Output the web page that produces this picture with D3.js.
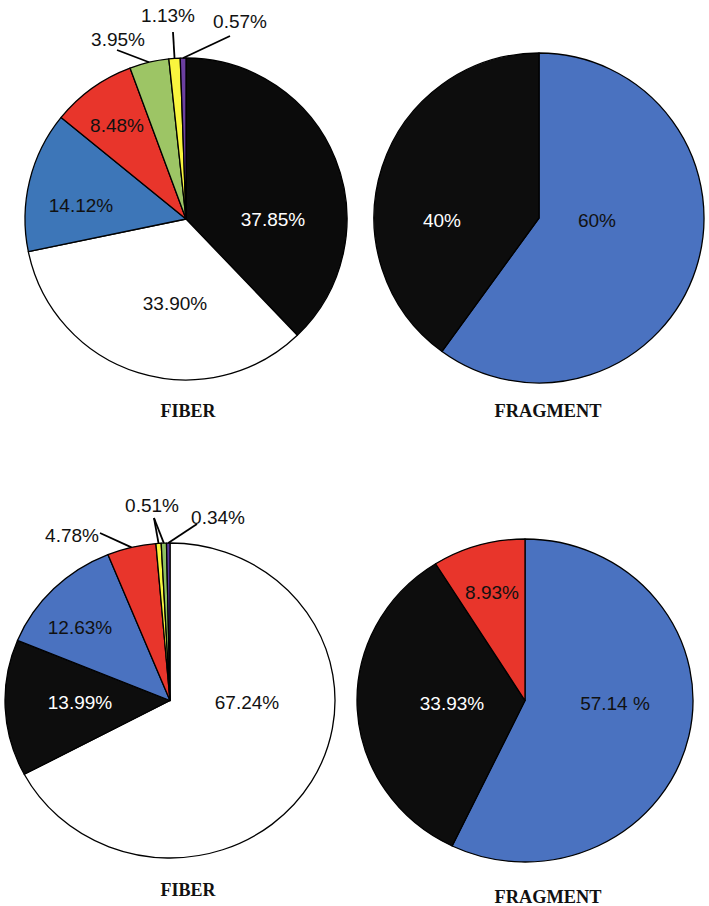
<!DOCTYPE html>
<html>
<head>
<meta charset="utf-8">
<script src="https://cdn.jsdelivr.net/npm/d3@7"></script>
<style>
  html, body { margin: 0; padding: 0; background: #fff; }
  svg { display: block; }
</style>
</head>
<body>
<svg id="chart" width="709" height="906"></svg>
<script>
// ---------------- DATA ----------------
const fiberTopCategories = ["Black", "White", "Blue", "Red", "Green", "Yellow", "Purple"];
const fiberTopValues     = [37.85, 33.90, 14.12, 8.48, 3.95, 1.13, 0.57];
const fiberTopLabels     = ["37.85%", "33.90%", "14.12%", "8.48%", "3.95%", "1.13%", "0.57%"];

const fragmentTopCategories = ["Blue", "Black"];
const fragmentTopValues     = [60, 40];
const fragmentTopLabels     = ["60%", "40%"];

const fiberBottomCategories = ["White", "Black", "Blue", "Red", "Yellow", "Green", "Purple"];
const fiberBottomValues     = [67.24, 13.99, 12.63, 4.78, 0.51, 0.51, 0.34];
const fiberBottomLabels     = ["67.24%", "13.99%", "12.63%", "4.78%", "0.51%", null, "0.34%"];

const fragmentBottomCategories = ["Blue", "Black", "Red"];
const fragmentBottomValues     = [57.14, 33.93, 8.93];
const fragmentBottomLabels     = ["57.14 %", "33.93%", "8.93%"];

const panelTitles = ["FIBER", "FRAGMENT", "FIBER", "FRAGMENT"];

// ---------------- STYLE ----------------
const colorFiberTop = {
  Black: "#0b0b0b", White: "#ffffff", Blue: "#3d76b8", Red: "#e8352b",
  Green: "#9dc565", Yellow: "#f9f53e", Purple: "#6b3fa0"
};
const colorOffice = {
  Black: "#0d0d0d", White: "#ffffff", Blue: "#4a72c0", Red: "#e8352b",
  Green: "#8fc060", Yellow: "#f9f53e", Purple: "#5b3d9c"
};
const labelFont = "Arial, 'Liberation Sans', Helvetica, sans-serif";
const titleFont = "'Times New Roman', 'Liberation Serif', Times, serif";

// layout: centers, radii, label offsets (relative to pie center)
const panels = [
  {
    cats: fiberTopCategories, vals: fiberTopValues, labels: fiberTopLabels, colors: colorFiberTop,
    cx: 186, cy: 219, rx: 161, ry: 161,
    title: panelTitles[0], tx: 188, ty: 410, tlen: 55,
    inside: [[87, 0], [-11, 84], [-105, -14], [-69, -94]],
    outside: [
      { slices: [4], label: 4, text: [-68, -180], from: [-69, -169] },
      { slices: [5], label: 5, text: [-18, -204], from: [-13, -187] },
      { slices: [6], label: 6, text: [54, -198], from: [44, -183] }
    ]
  },
  {
    cats: fragmentTopCategories, vals: fragmentTopValues, labels: fragmentTopLabels, colors: colorOffice,
    cx: 539, cy: 218, rx: 165, ry: 165,
    title: panelTitles[1], tx: 548, ty: 410, tlen: 107,
    inside: [[58, 2], [-97, 2]],
    outside: []
  },
  {
    cats: fiberBottomCategories, vals: fiberBottomValues, labels: fiberBottomLabels, colors: colorOffice,
    cx: 170, cy: 700.5, rx: 165, ry: 157.5,
    title: panelTitles[2], tx: 188, ty: 889, tlen: 55,
    inside: [[77, 1.5], [-90, 1.5], [-90, -73.5]],
    outside: [
      { slices: [3], label: 3, text: [-98, -165.5], from: [-70, -167.5] },
      { slices: [4, 5], label: 4, text: [-18, -195.5], from: [-16, -182.5] },
      { slices: [6], label: 6, text: [48, -183.5], from: [27, -176.5] }
    ]
  },
  {
    cats: fragmentBottomCategories, vals: fragmentBottomValues, labels: fragmentBottomLabels, colors: colorOffice,
    cx: 525, cy: 700.5, rx: 168, ry: 161.5,
    title: panelTitles[3], tx: 548, ty: 896, tlen: 107,
    inside: [[90, 2.5], [-73, 2.5], [-33, -108.5]],
    outside: []
  }
];

const svg = d3.select("#chart");
const pie = d3.pie().sort(null).value(d => d.value);

panels.forEach(p => {
  const data = p.cats.map((c, i) => ({ cat: c, value: p.vals[i], label: p.labels[i] }));
  const arcs = pie(data);
  const arc = d3.arc().innerRadius(0).outerRadius(p.ry);

  const g = svg.append("g").attr("transform", `translate(${p.cx},${p.cy})`);
  const shapes = g.append("g").attr("transform", `scale(${p.rx / p.ry},1)`);

  shapes.selectAll("path")
    .data(arcs)
    .join("path")
    .attr("d", arc)
    .attr("fill", d => p.colors[d.data.cat])
    .attr("stroke", "#000")
    .attr("stroke-width", 1.3)
    .attr("stroke-linejoin", "round")
    .attr("vector-effect", "non-scaling-stroke");

  // inside labels
  p.inside.forEach((off, i) => {
    const d = arcs[i];
    g.append("text")
      .attr("x", off[0])
      .attr("y", off[1])
      .attr("dy", "0.36em")
      .attr("text-anchor", "middle")
      .attr("font-family", labelFont)
      .attr("font-size", 19)
      .attr("fill", d.data.cat === "Black" ? "#ffffff" : "#111111")
      .text(d.data.label);
  });

  // outside labels with leader lines
  p.outside.forEach(o => {
    o.slices.forEach(si => {
      const d = arcs[si];
      const a = (d.startAngle + d.endAngle) / 2;
      const ex = p.rx * Math.sin(a);
      const ey = -p.ry * Math.cos(a);
      g.append("line")
        .attr("x1", o.from[0]).attr("y1", o.from[1])
        .attr("x2", ex).attr("y2", ey)
        .attr("stroke", "#000")
        .attr("stroke-width", 1.8);
    });
    g.append("text")
      .attr("x", o.text[0])
      .attr("y", o.text[1])
      .attr("dy", "0.36em")
      .attr("text-anchor", "middle")
      .attr("font-family", labelFont)
      .attr("font-size", 19)
      .attr("fill", "#111111")
      .text(arcs[o.label].data.label);
  });

  // panel title
  svg.append("text")
    .attr("x", p.tx - p.tlen / 2)
    .attr("y", p.ty)
    .attr("dy", "0.35em")
    .attr("textLength", p.tlen)
    .attr("lengthAdjust", "spacingAndGlyphs")
    .attr("font-family", titleFont)
    .attr("font-weight", "bold")
    .attr("font-size", 19.5)
    .attr("fill", "#111")
    .text(p.title);
});
</script>
</body>
</html>
